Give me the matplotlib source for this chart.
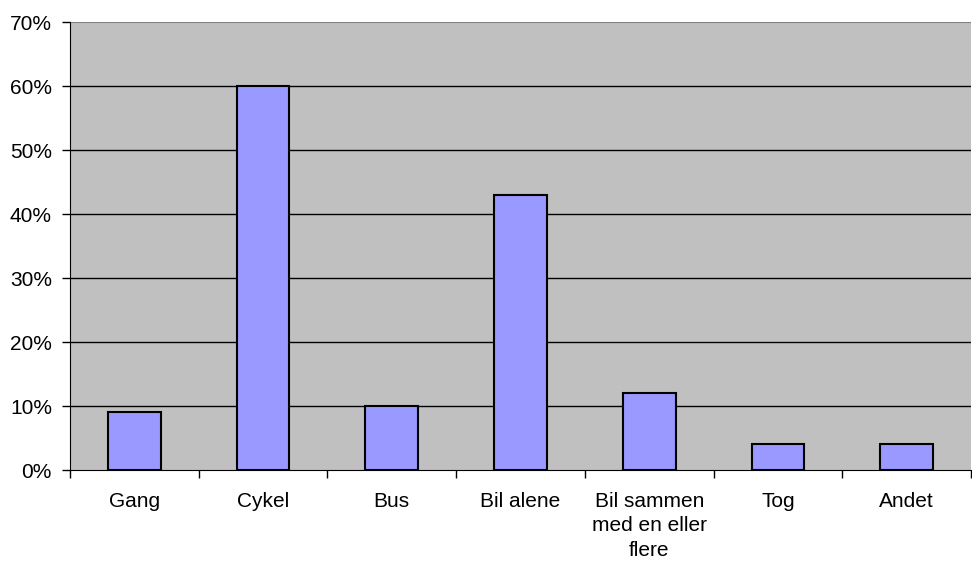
import matplotlib.pyplot as plt
from matplotlib.ticker import FixedLocator, FuncFormatter, NullFormatter

plt.rcParams['font.family'] = ['Liberation Sans', 'DejaVu Sans']

categories = ['Gang', 'Cykel', 'Bus', 'Bil alene',
              'Bil sammen\nmed en eller\nflere', 'Tog', 'Andet']
values = [9, 60, 10, 43, 12, 4, 4]
yticks = [0, 10, 20, 30, 40, 50, 60, 70]

fig = plt.figure(figsize=(9.72, 5.63), dpi=100)
ax = fig.add_axes([70 / 972, (563 - 470) / 563, 901 / 972, 448 / 563])
ax.set_facecolor('#c0c0c0')

x = list(range(len(categories)))
ax.bar(x, values, width=0.41, color='#9999ff', edgecolor='black',
       linewidth=1.5, zorder=3)

ax.set_xlim(-0.5, len(categories) - 0.5)
ax.set_ylim(0, 70)

ax.set_yticks(yticks)
ax.yaxis.set_major_formatter(FuncFormatter(lambda v, p: f'{v:.0f}%'))
for t in yticks[1:-1]:
    ax.axhline(t, color='black', linewidth=1.0, zorder=1)
ax.axhline(70, color='#808080', linewidth=1.5, zorder=1)

# category boundary ticks, labels at centres
ax.xaxis.set_major_locator(FixedLocator([i - 0.5 for i in range(len(categories) + 1)]))
ax.xaxis.set_major_formatter(NullFormatter())
ax.xaxis.set_minor_locator(FixedLocator(x))
ax.set_xticklabels(categories, minor=True)
ax.tick_params(axis='x', which='minor', length=0, pad=16, labelsize=15)
ax.tick_params(axis='x', which='major', length=6, width=1, direction='out')
ax.tick_params(axis='y', length=6, width=1, direction='out', labelsize=15, pad=7)
for lab in ax.get_xticklabels(minor=True):
    lab.set_linespacing(1.35)

for s in ['top', 'right']:
    ax.spines[s].set_visible(False)
ax.spines['left'].set_color('black')
ax.spines['bottom'].set_color('black')
ax.spines['left'].set_zorder(4)
ax.spines['bottom'].set_zorder(4)

fig.savefig('out.png', dpi=100)
